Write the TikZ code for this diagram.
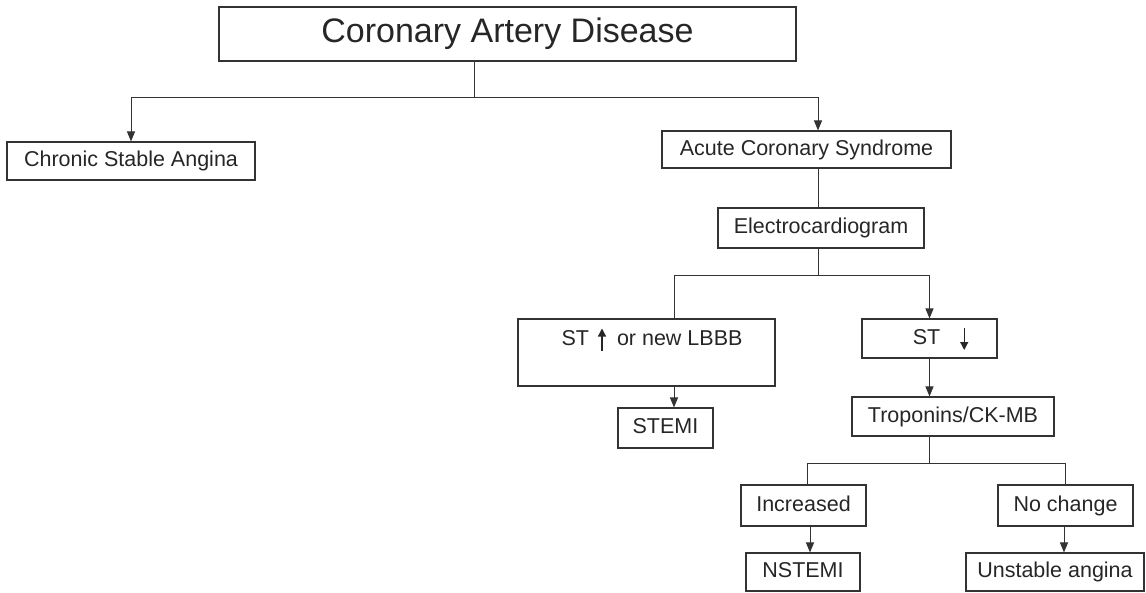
\documentclass[tikz,border=0pt]{standalone}
\usepackage{fontspec}
\setmainfont{Liberation Sans}
\usetikzlibrary{arrows.meta}
\tikzset{
  box/.style={draw=black!80, line width=1.1pt, rectangle, inner sep=0pt, text=black!85,
    font=\fontsize{21.5}{24}\selectfont, text height=15pt, text depth=4pt},
  conn/.style={draw=black!80, line width=1pt},
  arr/.style={conn, -{Triangle[length=10pt,width=8pt]}},
}
\newcommand{\myup}{\tikz[baseline=0pt,x=1pt,y=1pt]\draw[draw=black!85,line width=1.2pt,-{Triangle[length=8pt,width=8pt]}] (0,-5) -- (0,17);}
\newcommand{\mydown}{\tikz[baseline=0pt,x=1pt,y=1pt]\draw[draw=black!85,line width=1.2pt,-{Triangle[length=8pt,width=8pt]}] (0,16) -- (0,-6);}
\begin{document}
\begin{tikzpicture}[x=1pt,y=-1pt]
\useasboundingbox (0,0) rectangle (1146,592);
% nodes
\node[box, minimum width=577pt, minimum height=54pt, font=\fontsize{34}{40}\selectfont, text height=24.5pt, text depth=7pt] (cad) at (507.5,34) {Coronary Artery Disease};
\node[box, minimum width=248pt, minimum height=38pt] (csa) at (131,161) {Chronic Stable Angina};
\node[box, minimum width=289pt, minimum height=37pt] (acs) at (806.5,149.5) {Acute Coronary Syndrome};
\node[box, minimum width=206pt, minimum height=40pt] (ecg) at (821,228) {Electrocardiogram};
\node[box, minimum width=257pt, minimum height=67pt] (stup) at (646.5,352.5) {};
\node[text=black!85, font=\fontsize{21.5}{24}\selectfont, inner sep=0pt, text height=15pt, text depth=4pt] (stuptext) at (652,340) {ST\hspace{9pt}\myup\hspace{11pt}or new LBBB};
\node[box, minimum width=135pt, minimum height=39pt] (stdown) at (929.5,338.5) {\hspace*{22pt}ST\hspace{20pt}\mydown};
\node[box, minimum width=95pt, minimum height=40pt] (stemi) at (665.5,428) {STEMI};
\node[box, minimum width=202pt, minimum height=39pt] (trop) at (953,416.5) {Troponins/CK-MB};
\node[box, minimum width=125pt, minimum height=41pt] (inc) at (803.5,505.5) {Increased};
\node[box, minimum width=135pt, minimum height=41pt] (noch) at (1065.5,505.5) {No change};
\node[box, minimum width=114pt, minimum height=38pt] (nstemi) at (803,572) {NSTEMI};
\node[box, minimum width=178pt, minimum height=38pt] (ua) at (1055,572) {Unstable angina};
% junctions
\coordinate (j1) at (474,97);
\coordinate (j2) at (818,275);
\coordinate (j3) at (929,463);
% connectors
\draw[conn] (cad.south -| j1) -- (j1);
\draw[arr] (j1) -| (csa.north);
\draw[arr] (j1) -| ([xshift=11.5pt]acs.north);
\draw[conn] ([xshift=11.5pt]acs.south) -- ([xshift=11.5pt]acs.south |- ecg.north);
\draw[conn] (ecg.south -| j2) -- (j2);
\draw[conn] (j2) -| ([xshift=27.5pt]stup.north);
\draw[arr] (j2) -| (stdown.north);
\draw[arr] ([xshift=27.5pt]stup.south) -- ([xshift=27.5pt]stup.south |- stemi.north);
\draw[arr] (stdown.south) -- (stdown.south |- trop.north);
\draw[conn] (trop.south -| j3) -- (j3);
\draw[conn] (j3) -| ([xshift=3.5pt]inc.north);
\draw[conn] (j3) -| (noch.north);
\draw[arr] ([xshift=6.5pt]inc.south) -- ([xshift=6.5pt]inc.south |- nstemi.north);
\draw[arr] ([xshift=-1.5pt]noch.south) -- ([xshift=-1.5pt]noch.south |- ua.north);
\end{tikzpicture}
\end{document}
